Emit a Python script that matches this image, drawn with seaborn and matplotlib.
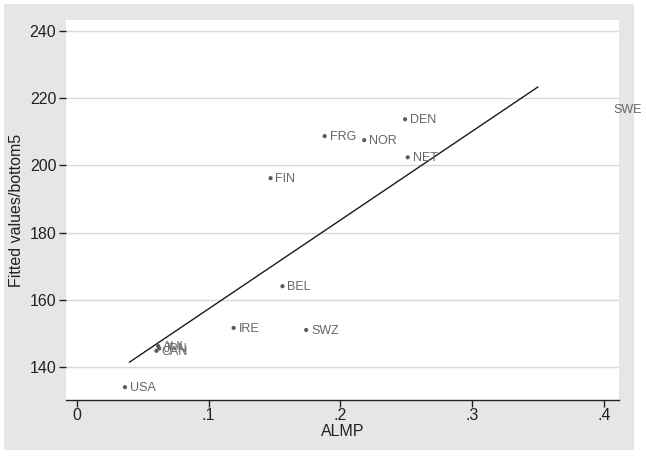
import matplotlib
matplotlib.use('Agg')
import matplotlib.pyplot as plt
import seaborn as sns
import pandas as pd
from matplotlib.patches import Rectangle

countries = ['USA', 'AUL', 'JPN', 'CAN', 'IRE', 'SWZ', 'BEL', 'FIN', 'FRG', 'NOR', 'DEN', 'NET']
almp = [0.0366, 0.0618, 0.0625, 0.0605, 0.119, 0.174, 0.156, 0.147, 0.188, 0.218, 0.249, 0.251]
bottom5 = [134.1, 146.3, 145.6, 144.9, 151.7, 151.1, 164.1, 196.2, 208.7, 207.5, 213.7, 202.4]

# SWE sits on the right edge, only its label shows
swe_x, swe_y = 0.4035, 216.5

fit_x = [0.0399, 0.3497]
fit_y = [141.5, 223.3]

df = pd.DataFrame({'country': countries, 'ALMP': almp, 'bottom5': bottom5})
fit = pd.DataFrame({'ALMP': fit_x, 'fitted': fit_y})

sns.set_style('white')
plt.rcParams['font.family'] = ['Liberation Sans', 'DejaVu Sans']

fig = plt.figure(figsize=(6.46, 4.59), dpi=100)
fig.patch.set_facecolor('white')
fig.patches.append(Rectangle((4 / 646, 1 - 450 / 459), 630 / 646, 446 / 459,
                             transform=fig.transFigure, facecolor='#e6e6e6',
                             edgecolor='none', zorder=-10))
ax = fig.add_axes([66 / 646, 1 - 400.3 / 459, (619.3 - 66) / 646, (400.3 - 20) / 459])
ax.set_facecolor('white')

for yv in [140, 160, 180, 200, 220, 240]:
    ax.axhline(yv, color='#d9d9d9', linewidth=1, zorder=0)

sns.lineplot(data=fit, x='ALMP', y='fitted', color='#1a1a1a', linewidth=1, ax=ax, zorder=3)
sns.scatterplot(data=df, x='ALMP', y='bottom5', color='#5a5a5a', s=9, edgecolor='none',
                ax=ax, zorder=4)

lab_col = '#666666'
for _, r in df.iterrows():
    ax.annotate(r['country'], (r['ALMP'], r['bottom5']), xytext=(3.5, -0.5),
                textcoords='offset points', va='center', ha='left',
                fontsize=9, color=lab_col, zorder=5, annotation_clip=False)
ax.annotate('SWE', (swe_x, swe_y), xytext=(3, 0), textcoords='offset points',
            va='center', ha='left', fontsize=9, color=lab_col, annotation_clip=False)

ax.set_xlim(-0.0081, 0.4114)
ax.set_ylim(130.2, 243.2)
ax.set_xticks([0, 0.1, 0.2, 0.3, 0.4])
ax.set_xticklabels(['0', '.1', '.2', '.3', '.4'])
ax.set_yticks([140, 160, 180, 200, 220, 240])
ax.tick_params(axis='both', direction='out', length=5, width=1, color='#222222',
               labelsize=11.5, labelcolor='#222222', bottom=True, left=True)
ax.tick_params(axis='x', pad=0.5)
ax.tick_params(axis='y', pad=2)

for side in ['top', 'right', 'left']:
    ax.spines[side].set_visible(False)
ax.spines['bottom'].set_color('#222222')
ax.spines['bottom'].set_linewidth(1)

ax.set_xlabel('ALMP', fontsize=11.5, color='#222222', labelpad=1)
ax.set_ylabel('Fitted values/bottom5', fontsize=11.5, color='#222222', labelpad=4)

fig.savefig('out.png', dpi=100, facecolor=fig.get_facecolor())
